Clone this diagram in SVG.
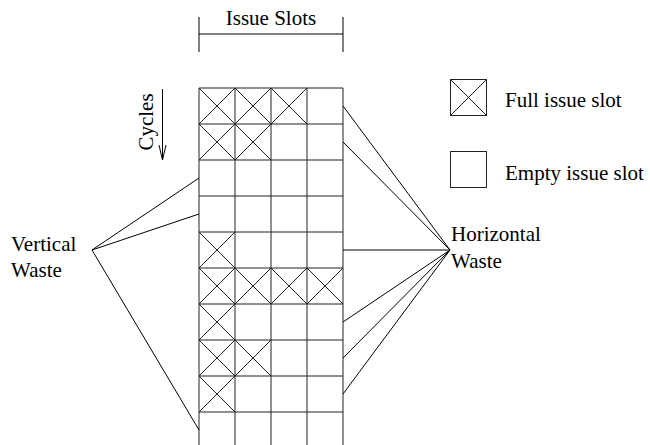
<svg xmlns="http://www.w3.org/2000/svg" width="650" height="445" viewBox="0 0 650 445">
<defs>
<style>
text{font-family:"Liberation Serif","Times New Roman",serif;font-size:21px;fill:#000}
.g{stroke:#222;stroke-width:1;fill:none}
.c{stroke:#000;stroke-width:1;fill:none}
</style>
<g id="x"><path class="g" d="M0,0L36,36M36,0L0,36"/></g>
</defs>
<rect width="650" height="445" fill="#fff"/>
<g id="issue-slots">
<path class="c" d="M199,34H343M199,17V52M343,17V52"/>
<text x="271" y="25" text-anchor="middle">Issue Slots</text>
</g>
<g id="cycles">
<text transform="translate(153,122) rotate(-90)" text-anchor="middle">Cycles</text>
<path class="c" d="M162.5,89V160M159,145L162.5,160L166,145"/>
</g>
<g id="grid">
<path class="g" d="M199,88V445M235,88V445M271,88V445M307,88V445M343,88V445"/>
<path class="g" d="M199,88H343M199,124H343M199,160H343M199,196H343M199,232H343M199,268H343M199,304H343M199,340H343M199,376H343M199,412H343"/>
<use href="#x" x="199" y="88"/><use href="#x" x="235" y="88"/><use href="#x" x="271" y="88"/>
<use href="#x" x="199" y="124"/><use href="#x" x="235" y="124"/>
<use href="#x" x="199" y="232"/>
<use href="#x" x="199" y="268"/><use href="#x" x="235" y="268"/><use href="#x" x="271" y="268"/><use href="#x" x="307" y="268"/>
<use href="#x" x="199" y="304"/>
<use href="#x" x="199" y="340"/><use href="#x" x="235" y="340"/>
<use href="#x" x="199" y="376"/>
</g>
<g id="legend-full">
<rect class="g" x="450.5" y="79.5" width="36" height="36"/>
<path class="g" d="M450.5,79.5L486.5,115.5M486.5,79.5L450.5,115.5"/>
<text x="505" y="107">Full issue slot</text>
</g>
<g id="legend-empty">
<rect class="g" x="450.5" y="151.5" width="36" height="36"/>
<text x="505" y="180">Empty issue slot</text>
</g>
<g id="vertical-waste">
<text x="11" y="251">Vertical</text>
<text x="11" y="277">Waste</text>
</g>
<g id="horizontal-waste">
<text x="451" y="241">Horizontal</text>
<text x="451" y="268">Waste</text>
</g>
<g id="connectors">
<path class="c" d="M92,250L199,178M92,250L199,214M92,250L199,430"/>
<path class="c" d="M450,250L343,106M450,250L343,142M450,250L343,250M450,250L343,322M450,250L343,358M450,250L343,394"/>
</g>
</svg>
